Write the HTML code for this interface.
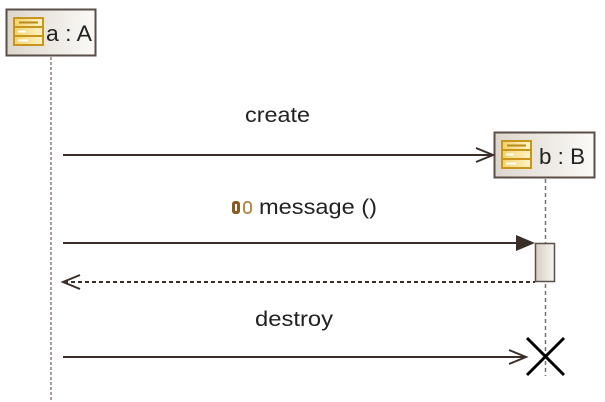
<!DOCTYPE html>
<html><head><meta charset="utf-8"><style>
html,body{margin:0;padding:0;background:#fff;width:605px;height:402px;overflow:hidden}
text{font-family:"Liberation Sans",sans-serif;fill:#222}
</style></head><body>
<svg width="605" height="402" viewBox="0 0 605 402" xmlns="http://www.w3.org/2000/svg">
<defs>
<linearGradient id="g" x1="0" y1="0" x2="1" y2="0"><stop offset="0" stop-color="#ddd6cc"/><stop offset="1" stop-color="#fbfaf8"/></linearGradient>
<linearGradient id="ig" x1="0" y1="0" x2="1" y2="0"><stop offset="0" stop-color="#f3d26a"/><stop offset="1" stop-color="#fff4c8"/></linearGradient>
<linearGradient id="ag" x1="0" y1="0" x2="1" y2="0"><stop offset="0" stop-color="#d8cfc4"/><stop offset="1" stop-color="#f6f3ef"/></linearGradient>
<g id="icon">
<rect x="0" y="0" width="29" height="27" fill="url(#ig)" stroke="#c8961c" stroke-width="2"/>
<line x1="0" y1="9" x2="29" y2="9" stroke="#c8961c" stroke-width="2"/>
<line x1="0" y1="18" x2="29" y2="18" stroke="#c8961c" stroke-width="2"/>
<line x1="5" y1="4.5" x2="24" y2="4.5" stroke="#b88a1c" stroke-width="2"/>
<line x1="4" y1="13.5" x2="12" y2="13.5" stroke="#fff" stroke-width="2"/>
<line x1="4" y1="22.5" x2="14" y2="22.5" stroke="#fff" stroke-width="2"/>
</g>
</defs>
<line x1="51" y1="57" x2="51" y2="402" stroke="#8a7f78" stroke-width="1.5" stroke-dasharray="3,2"/>
<line x1="545.5" y1="179" x2="545.5" y2="376" stroke="#7a706a" stroke-width="1.5" stroke-dasharray="4,3"/>
<rect x="6.5" y="9.5" width="89" height="46" fill="url(#g)" stroke="#5a4e48" stroke-width="2"/>
<use href="#icon" x="14" y="18"/>
<text x="46" y="41" font-size="22" textLength="46" lengthAdjust="spacingAndGlyphs">a : A</text>
<rect x="494.5" y="132.5" width="100" height="45" fill="url(#g)" stroke="#5a4e48" stroke-width="2"/>
<use href="#icon" x="502" y="141"/>
<text x="539" y="164" font-size="22" textLength="46" lengthAdjust="spacingAndGlyphs">b : B</text>
<text x="245" y="122" font-size="21" textLength="65" lengthAdjust="spacingAndGlyphs">create</text>
<line x1="63" y1="155" x2="493" y2="155" stroke="#3a2e28" stroke-width="2"/>
<polyline points="476,148 493,155 476,162" fill="none" stroke="#3a2e28" stroke-width="2"/>
<rect x="232" y="201" width="8" height="13" rx="3" fill="#8a5a20"/>
<rect x="235" y="204" width="2" height="7" fill="#fff"/>
<rect x="244" y="202" width="7" height="11" rx="3" fill="none" stroke="#b08040" stroke-width="1.8"/>
<text x="259" y="214" font-size="21" textLength="118" lengthAdjust="spacingAndGlyphs">message ()</text>
<line x1="63" y1="243" x2="520" y2="243" stroke="#3a2e28" stroke-width="2"/>
<polygon points="516,235 535,243 516,251" fill="#3a2e28"/>
<rect x="535.5" y="243.5" width="19" height="38" fill="url(#ag)" stroke="#5a4e48" stroke-width="1.5"/>
<line x1="64" y1="282" x2="535" y2="282" stroke="#3a2e28" stroke-width="2" stroke-dasharray="4,3"/>
<polyline points="80,275 63,282 80,289" fill="none" stroke="#3a2e28" stroke-width="2"/>
<text x="255" y="326" font-size="21" textLength="78" lengthAdjust="spacingAndGlyphs">destroy</text>
<line x1="63" y1="357" x2="526" y2="357" stroke="#3a2e28" stroke-width="2"/>
<polyline points="509,350 526,357 509,364" fill="none" stroke="#3a2e28" stroke-width="2"/>
<line x1="527" y1="338" x2="564" y2="375" stroke="#000" stroke-width="3"/>
<line x1="564" y1="338" x2="527" y2="375" stroke="#000" stroke-width="3"/>
</svg>
</body></html>
